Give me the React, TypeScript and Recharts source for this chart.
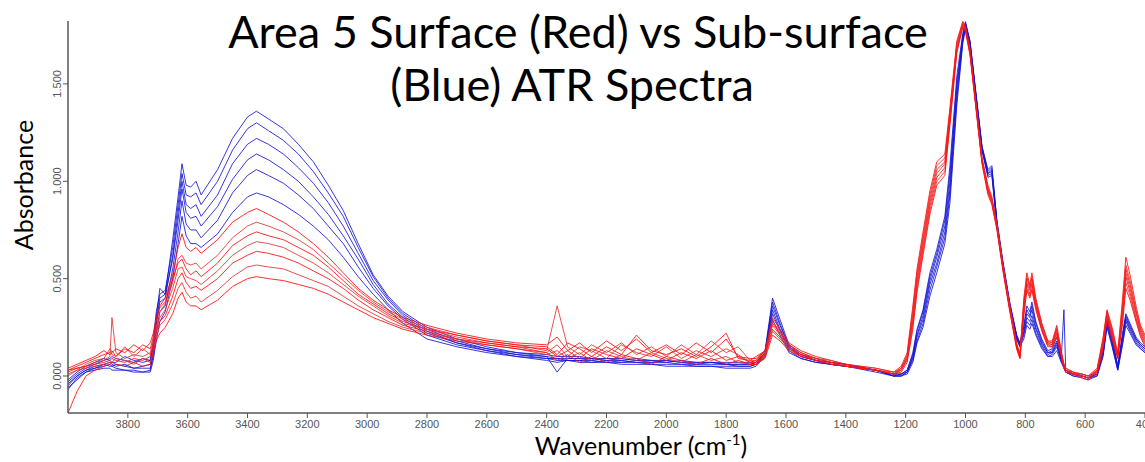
import React from "react";
import { LineChart, Line, XAxis, YAxis } from "recharts";

// wavenumber grid (cm-1), high to low as plotted
const wavenumber = [
  4000, 3970, 3940, 3910, 3880, 3860, 3853, 3840, 3810, 3780, 3750, 3725,
  3715, 3705, 3693, 3675, 3650, 3632, 3619, 3605, 3590, 3572, 3555, 3500, 3450, 3400, 3370, 3330, 3280, 3230, 3180, 3130, 3080, 3030, 2980, 2930, 2880, 2800, 2700, 2600, 2500,
  2400, 2365, 2330, 2290, 2250, 2200, 2150, 2100, 2050, 2000, 1950, 1900, 1850, 1800, 1760, 1720,
  1700, 1670, 1645, 1620, 1590, 1550, 1500, 1450, 1400, 1300, 1240, 1215, 1195, 1176, 1162, 1142, 1119, 1096, 1069, 1052,
  1029, 1009, 1000, 985, 962, 945, 925, 912, 895, 875, 852, 829, 818, 805, 795, 785, 778, 765, 745, 725,
  710, 695, 680, 671, 665, 640, 610, 590, 560, 540, 527, 510, 491, 475, 464, 450, 430, 415, 400,
];

// sub-surface spectra (blue)
const blue1 = [
  -0.05, 0.0, 0.03, 0.05, 0.06, 0.07, 0.06, 0.05, 0.06, 0.04, 0.05, 0.06,
  0.15, 0.3, 0.45, 0.42, 0.7, 0.92, 1.09, 0.98, 0.97, 1.0, 0.93, 1.06, 1.22, 1.33, 1.36, 1.32, 1.27, 1.19, 1.1, 0.98, 0.85, 0.68, 0.52, 0.41, 0.33, 0.25, 0.19, 0.15, 0.12,
  0.11, 0.1, 0.1, 0.1, 0.09, 0.09, 0.09, 0.08, 0.08, 0.08, 0.07, 0.07, 0.07, 0.07, 0.07, 0.07,
  0.08, 0.13, 0.4, 0.29, 0.16, 0.11, 0.09, 0.07, 0.06, 0.03, 0.0, 0.01, 0.03, 0.12, 0.24, 0.34, 0.53, 0.65, 0.82, 1.08,
  1.54, 1.76, 1.82, 1.72, 1.41, 1.18, 1.06, 1.08, 0.8, 0.59, 0.38, 0.21, 0.17, 0.26, 0.36, 0.33, 0.38, 0.28, 0.19, 0.13,
  0.14, 0.2, 0.1, 0.06, 0.03, 0.01, 0.0, -0.01, 0.02, 0.15, 0.3, 0.2, 0.05, 0.22, 0.32, 0.27, 0.2, 0.17, 0.15,
];
const blue2 = [
  -0.03, 0.01, 0.04, 0.06, 0.08, 0.09, 0.1, 0.09, 0.08, 0.07, 0.09, 0.08,
  0.18, 0.33, 0.42, 0.44, 0.66, 0.88, 1.04, 0.93, 0.92, 0.94, 0.88, 1.0, 1.16, 1.27, 1.3, 1.26, 1.21, 1.14, 1.05, 0.94, 0.82, 0.66, 0.51, 0.4, 0.32, 0.24, 0.18, 0.14, 0.12,
  0.1, 0.09, 0.09, 0.09, 0.09, 0.08, 0.08, 0.09, 0.08, 0.07, 0.08, 0.07, 0.07, 0.06, 0.06, 0.06,
  0.07, 0.12, 0.38, 0.27, 0.15, 0.11, 0.08, 0.07, 0.06, 0.03, 0.01, 0.01, 0.03, 0.11, 0.23, 0.33, 0.51, 0.63, 0.8, 1.04,
  1.51, 1.75, 1.81, 1.72, 1.41, 1.18, 1.05, 1.07, 0.79, 0.58, 0.37, 0.21, 0.17, 0.25, 0.34, 0.31, 0.36, 0.27, 0.18, 0.12,
  0.13, 0.18, 0.09, 0.05, 0.03, 0.01, 0.01, 0.0, 0.02, 0.14, 0.29, 0.19, 0.05, 0.21, 0.31, 0.26, 0.19, 0.16, 0.14,
];
const blue3 = [
  -0.06, -0.02, 0.02, 0.04, 0.05, 0.06, 0.05, 0.04, 0.03, 0.03, 0.02, 0.03,
  0.12, 0.26, 0.38, 0.4, 0.62, 0.84, 1.0, 0.88, 0.86, 0.88, 0.82, 0.93, 1.09, 1.19, 1.22, 1.19, 1.14, 1.07, 0.99, 0.89, 0.77, 0.63, 0.49, 0.39, 0.31, 0.23, 0.17, 0.14, 0.11,
  0.1, 0.02, 0.09, 0.09, 0.08, 0.09, 0.08, 0.07, 0.07, 0.08, 0.07, 0.06, 0.06, 0.06, 0.06, 0.06,
  0.07, 0.12, 0.36, 0.26, 0.15, 0.1, 0.08, 0.06, 0.05, 0.03, 0.0, 0.0, 0.02, 0.1, 0.21, 0.31, 0.49, 0.61, 0.77, 1.0,
  1.48, 1.74, 1.81, 1.71, 1.4, 1.17, 1.04, 1.06, 0.79, 0.58, 0.37, 0.2, 0.16, 0.23, 0.32, 0.3, 0.34, 0.25, 0.17, 0.12,
  0.12, 0.17, 0.09, 0.34, 0.03, 0.01, 0.0, -0.01, 0.01, 0.13, 0.28, 0.18, 0.04, 0.2, 0.3, 0.25, 0.19, 0.16, 0.14,
];
const blue4 = [
  -0.02, 0.02, 0.05, 0.07, 0.09, 0.08, 0.07, 0.07, 0.1, 0.08, 0.07, 0.08,
  0.16, 0.28, 0.4, 0.42, 0.6, 0.8, 0.96, 0.84, 0.81, 0.82, 0.77, 0.87, 1.01, 1.11, 1.14, 1.11, 1.06, 1.0, 0.92, 0.83, 0.72, 0.6, 0.47, 0.37, 0.3, 0.22, 0.17, 0.13, 0.11,
  0.09, 0.08, 0.08, 0.08, 0.08, 0.07, 0.07, 0.08, 0.07, 0.07, 0.06, 0.06, 0.07, 0.06, 0.05, 0.05,
  0.06, 0.11, 0.34, 0.24, 0.14, 0.1, 0.08, 0.06, 0.05, 0.03, 0.01, 0.01, 0.02, 0.09, 0.2, 0.29, 0.47, 0.58, 0.74, 0.96,
  1.45, 1.73, 1.8, 1.71, 1.4, 1.17, 1.04, 1.05, 0.78, 0.57, 0.36, 0.2, 0.16, 0.22, 0.3, 0.28, 0.31, 0.24, 0.16, 0.11,
  0.12, 0.16, 0.08, 0.05, 0.02, 0.01, 0.0, -0.01, 0.01, 0.12, 0.27, 0.17, 0.04, 0.19, 0.29, 0.24, 0.18, 0.15, 0.13,
];
const blue5 = [
  -0.04, 0.0, 0.03, 0.04, 0.06, 0.05, 0.05, 0.06, 0.05, 0.04, 0.04, 0.04,
  0.1, 0.22, 0.33, 0.36, 0.55, 0.74, 0.9, 0.78, 0.75, 0.75, 0.71, 0.8, 0.94, 1.03, 1.06, 1.03, 0.99, 0.93, 0.86, 0.77, 0.68, 0.56, 0.45, 0.36, 0.29, 0.21, 0.16, 0.13, 0.1,
  0.09, 0.09, 0.08, 0.08, 0.07, 0.08, 0.07, 0.07, 0.06, 0.06, 0.06, 0.05, 0.05, 0.05, 0.05, 0.05,
  0.06, 0.1, 0.32, 0.23, 0.13, 0.09, 0.07, 0.06, 0.05, 0.03, 0.0, 0.0, 0.02, 0.08, 0.18, 0.27, 0.44, 0.56, 0.71, 0.93,
  1.42, 1.72, 1.79, 1.7, 1.39, 1.16, 1.03, 1.04, 0.77, 0.56, 0.36, 0.19, 0.15, 0.21, 0.28, 0.26, 0.29, 0.22, 0.15, 0.1,
  0.11, 0.15, 0.08, 0.04, 0.02, 0.0, -0.01, -0.02, 0.0, 0.11, 0.26, 0.16, 0.03, 0.17, 0.28, 0.23, 0.17, 0.14, 0.12,
];
const blue6 = [
  -0.07, -0.01, 0.02, 0.03, 0.04, 0.04, 0.03, 0.03, 0.03, 0.02, 0.02, 0.02,
  0.08, 0.18, 0.28, 0.33, 0.5, 0.68, 0.82, 0.72, 0.68, 0.68, 0.66, 0.73, 0.84, 0.92, 0.94, 0.92, 0.88, 0.83, 0.77, 0.7, 0.61, 0.51, 0.42, 0.34, 0.27, 0.19, 0.15, 0.12, 0.1,
  0.08, 0.07, 0.08, 0.07, 0.07, 0.07, 0.06, 0.06, 0.06, 0.05, 0.05, 0.05, 0.05, 0.04, 0.04, 0.04,
  0.05, 0.1, 0.29, 0.21, 0.12, 0.09, 0.07, 0.06, 0.05, 0.02, 0.0, 0.0, 0.01, 0.07, 0.17, 0.25, 0.41, 0.53, 0.68, 0.89,
  1.39, 1.71, 1.78, 1.7, 1.39, 1.16, 1.02, 1.03, 0.77, 0.56, 0.35, 0.19, 0.15, 0.19, 0.26, 0.24, 0.27, 0.21, 0.14, 0.1,
  0.1, 0.13, 0.07, 0.04, 0.02, 0.0, 0.0, -0.01, 0.0, 0.1, 0.25, 0.15, 0.03, 0.16, 0.26, 0.22, 0.16, 0.14, 0.12,
];

// surface spectra (red)
const red1 = [
  0.03, 0.05, 0.07, 0.09, 0.11, 0.12, 0.13, 0.1, 0.14, 0.12, 0.16, 0.14,
  0.2, 0.28, 0.36, 0.4, 0.52, 0.66, 0.73, 0.66, 0.64, 0.66, 0.63, 0.7, 0.79, 0.84, 0.86, 0.83, 0.79, 0.74, 0.68, 0.61, 0.53, 0.45, 0.39, 0.34, 0.3, 0.26, 0.22, 0.19, 0.17,
  0.16, 0.2, 0.13, 0.17, 0.12, 0.18, 0.13, 0.19, 0.12, 0.16, 0.11, 0.17, 0.12, 0.19, 0.1, 0.09,
  0.09, 0.13, 0.3, 0.24, 0.17, 0.13, 0.1, 0.08, 0.06, 0.04, 0.02, 0.05, 0.12, 0.36, 0.55, 0.74, 0.95, 1.1, 1.14, 1.38,
  1.72, 1.82, 1.8, 1.68, 1.36, 1.12, 0.98, 0.92, 0.78, 0.57, 0.36, 0.17, 0.11, 0.4, 0.53, 0.47, 0.53, 0.4, 0.27, 0.18,
  0.18, 0.26, 0.13, 0.06, 0.04, 0.02, 0.01, 0.0, 0.04, 0.2, 0.34, 0.25, 0.12, 0.4, 0.61, 0.52, 0.36, 0.26, 0.21,
];
const red2 = [
  0.02, 0.04, 0.05, 0.07, 0.08, 0.1, 0.3, 0.12, 0.09, 0.11, 0.1, 0.12,
  0.18, 0.25, 0.33, 0.37, 0.48, 0.6, 0.62, 0.58, 0.57, 0.58, 0.55, 0.62, 0.71, 0.77, 0.79, 0.77, 0.74, 0.7, 0.65, 0.58, 0.51, 0.44, 0.38, 0.33, 0.29, 0.25, 0.21, 0.18, 0.16,
  0.13, 0.36, 0.15, 0.11, 0.16, 0.12, 0.17, 0.11, 0.15, 0.1, 0.16, 0.11, 0.18, 0.12, 0.15, 0.08,
  0.08, 0.12, 0.28, 0.23, 0.16, 0.12, 0.09, 0.08, 0.06, 0.04, 0.02, 0.04, 0.11, 0.34, 0.53, 0.72, 0.93, 1.08, 1.12, 1.36,
  1.71, 1.82, 1.79, 1.67, 1.36, 1.12, 0.97, 0.91, 0.78, 0.57, 0.36, 0.16, 0.11, 0.38, 0.51, 0.46, 0.51, 0.39, 0.27, 0.18,
  0.17, 0.25, 0.12, 0.06, 0.04, 0.02, 0.01, 0.0, 0.03, 0.19, 0.33, 0.24, 0.11, 0.37, 0.57, 0.49, 0.34, 0.25, 0.2,
];
const red3 = [
  0.04, 0.06, 0.08, 0.1, 0.13, 0.11, 0.12, 0.14, 0.12, 0.16, 0.13, 0.17,
  0.22, 0.3, 0.35, 0.38, 0.5, 0.58, 0.6, 0.55, 0.52, 0.54, 0.51, 0.58, 0.67, 0.72, 0.74, 0.72, 0.7, 0.66, 0.62, 0.56, 0.49, 0.42, 0.37, 0.32, 0.28, 0.24, 0.21, 0.18, 0.16,
  0.15, 0.11, 0.17, 0.14, 0.1, 0.15, 0.11, 0.21, 0.13, 0.11, 0.14, 0.1, 0.15, 0.22, 0.09, 0.08,
  0.1, 0.13, 0.27, 0.22, 0.16, 0.12, 0.09, 0.07, 0.06, 0.03, 0.01, 0.04, 0.1, 0.32, 0.51, 0.7, 0.91, 1.06, 1.1, 1.35,
  1.7, 1.81, 1.79, 1.67, 1.35, 1.11, 0.96, 0.91, 0.77, 0.56, 0.35, 0.16, 0.1, 0.37, 0.5, 0.45, 0.5, 0.38, 0.26, 0.17,
  0.17, 0.24, 0.12, 0.05, 0.03, 0.02, 0.0, -0.01, 0.03, 0.18, 0.33, 0.23, 0.11, 0.35, 0.55, 0.47, 0.33, 0.24, 0.19,
];
const red4 = [
  0.01, 0.03, 0.06, 0.08, 0.09, 0.14, 0.11, 0.1, 0.15, 0.1, 0.14, 0.11,
  0.16, 0.24, 0.3, 0.34, 0.45, 0.55, 0.56, 0.51, 0.5, 0.49, 0.47, 0.54, 0.62, 0.67, 0.69, 0.68, 0.66, 0.62, 0.58, 0.53, 0.47, 0.41, 0.36, 0.31, 0.27, 0.24, 0.2, 0.17, 0.15,
  0.12, 0.16, 0.1, 0.15, 0.13, 0.09, 0.16, 0.12, 0.1, 0.15, 0.09, 0.13, 0.1, 0.14, 0.11, 0.07,
  0.07, 0.11, 0.26, 0.21, 0.15, 0.11, 0.09, 0.07, 0.05, 0.03, 0.02, 0.03, 0.09, 0.3, 0.49, 0.68, 0.89, 1.04, 1.09, 1.33,
  1.69, 1.81, 1.78, 1.66, 1.35, 1.11, 0.96, 0.9, 0.77, 0.56, 0.35, 0.15, 0.1, 0.35, 0.48, 0.44, 0.48, 0.37, 0.25, 0.17,
  0.16, 0.23, 0.11, 0.05, 0.03, 0.01, 0.0, -0.01, 0.02, 0.17, 0.32, 0.22, 0.1, 0.33, 0.53, 0.45, 0.32, 0.23, 0.18,
];
const red5 = [
  0.03, 0.04, 0.05, 0.06, 0.07, 0.08, 0.09, 0.08, 0.07, 0.09, 0.08, 0.1,
  0.15, 0.22, 0.28, 0.31, 0.41, 0.5, 0.53, 0.48, 0.45, 0.46, 0.44, 0.5, 0.58, 0.62, 0.64, 0.63, 0.61, 0.58, 0.54, 0.5, 0.45, 0.39, 0.34, 0.3, 0.26, 0.23, 0.19, 0.17, 0.15,
  0.14, 0.1, 0.13, 0.09, 0.14, 0.11, 0.09, 0.14, 0.11, 0.08, 0.12, 0.09, 0.13, 0.08, 0.1, 0.07,
  0.07, 0.11, 0.24, 0.2, 0.14, 0.11, 0.08, 0.07, 0.05, 0.03, 0.01, 0.03, 0.09, 0.28, 0.47, 0.66, 0.87, 1.02, 1.07, 1.32,
  1.68, 1.8, 1.78, 1.66, 1.34, 1.1, 0.95, 0.89, 0.76, 0.55, 0.34, 0.15, 0.1, 0.34, 0.47, 0.42, 0.47, 0.36, 0.24, 0.16,
  0.16, 0.22, 0.11, 0.05, 0.03, 0.01, 0.0, -0.01, 0.02, 0.16, 0.31, 0.21, 0.1, 0.31, 0.51, 0.43, 0.3, 0.22, 0.17,
];
const red6 = [
  0.0, 0.03, 0.04, 0.05, 0.06, 0.07, 0.07, 0.09, 0.08, 0.06, 0.09, 0.07,
  0.13, 0.2, 0.26, 0.29, 0.37, 0.45, 0.48, 0.43, 0.4, 0.41, 0.38, 0.44, 0.51, 0.56, 0.57, 0.56, 0.55, 0.52, 0.49, 0.46, 0.41, 0.36, 0.32, 0.28, 0.25, 0.22, 0.19, 0.16, 0.14,
  0.11, 0.13, 0.09, 0.12, 0.08, 0.13, 0.1, 0.08, 0.12, 0.09, 0.07, 0.11, 0.08, 0.1, 0.07, 0.06,
  0.06, 0.1, 0.23, 0.19, 0.14, 0.1, 0.08, 0.06, 0.05, 0.03, 0.01, 0.03, 0.08, 0.26, 0.45, 0.64, 0.85, 1.0, 1.05, 1.3,
  1.67, 1.8, 1.77, 1.65, 1.34, 1.1, 0.94, 0.89, 0.76, 0.55, 0.34, 0.14, 0.09, 0.32, 0.45, 0.41, 0.45, 0.35, 0.24, 0.16,
  0.15, 0.21, 0.1, 0.04, 0.03, 0.01, 0.0, -0.01, 0.02, 0.15, 0.3, 0.2, 0.09, 0.29, 0.48, 0.41, 0.29, 0.21, 0.16,
];
const red7 = [
  -0.19, -0.08, 0.0, 0.03, 0.05, 0.06, 0.07, 0.06, 0.05, 0.07, 0.05, 0.06,
  0.12, 0.18, 0.22, 0.25, 0.32, 0.4, 0.43, 0.38, 0.36, 0.36, 0.34, 0.39, 0.46, 0.5, 0.51, 0.5, 0.49, 0.47, 0.45, 0.42, 0.38, 0.34, 0.3, 0.27, 0.24, 0.21, 0.18, 0.16, 0.14,
  0.12, 0.08, 0.11, 0.07, 0.1, 0.07, 0.11, 0.09, 0.06, 0.1, 0.08, 0.06, 0.09, 0.06, 0.08, 0.06,
  0.06, 0.09, 0.21, 0.18, 0.13, 0.1, 0.08, 0.06, 0.05, 0.03, 0.01, 0.02, 0.07, 0.24, 0.43, 0.62, 0.83, 0.98, 1.03, 1.29,
  1.66, 1.79, 1.77, 1.65, 1.33, 1.09, 0.93, 0.88, 0.75, 0.54, 0.33, 0.14, 0.09, 0.31, 0.44, 0.4, 0.44, 0.34, 0.23, 0.15,
  0.15, 0.2, 0.1, 0.04, 0.02, 0.01, -0.01, -0.02, 0.01, 0.14, 0.29, 0.19, 0.09, 0.27, 0.45, 0.39, 0.28, 0.2, 0.15,
];

const xTicks = [3800, 3600, 3400, 3200, 3000, 2800, 2600, 2400, 2200, 2000, 1800, 1600, 1400, 1200, 1000, 800, 600, 400];
const yTicks = [0, 0.5, 1, 1.5];

const blueSeries = [blue1, blue2, blue3, blue4, blue5, blue6];
const redSeries = [red1, red2, red3, red4, red5, red6, red7];

const data = wavenumber.map((w, i) => {
  const row: Record<string, number> = { w };
  blueSeries.forEach((s, k) => (row[`b${k}`] = s[i]));
  redSeries.forEach((s, k) => (row[`r${k}`] = s[i]));
  return row;
});

const tickFont = "'Liberation Sans', Arial, sans-serif";
const labelFont = "Lato, 'Open Sans', sans-serif";

function YTick({ x, y, payload }: any) {
  return (
    <text
      x={x}
      y={y}
      transform={`rotate(-90 ${x} ${y})`}
      textAnchor="middle"
      fontSize={11}
      fontFamily={tickFont}
      fill="#555"
    >
      {Number(payload.value).toFixed(3)}
    </text>
  );
}

export default function App() {
  return (
    <div style={{ position: "absolute", left: 0, top: 0, width: 1145, height: 462, background: "#fff" }}>
      <LineChart width={1145} height={462} data={data} margin={{ top: 21, right: 0, bottom: 0, left: 38 }}>
        <XAxis
          dataKey="w"
          type="number"
          domain={[400, 4000]}
          reversed
          allowDataOverflow
          ticks={xTicks}
          interval={0}
          height={49}
          tickSize={5}
          tick={{ fontSize: 11, fill: "#555", fontFamily: tickFont }}
          tickLine={{ stroke: "#555" }}
          axisLine={{ stroke: "#555", strokeWidth: 1.5 }}
        />
        <YAxis
          type="number"
          domain={[-0.19, 1.823]}
          allowDataOverflow
          ticks={yTicks}
          width={30}
          tickSize={5}
          tick={<YTick />}
          tickLine={{ stroke: "#555" }}
          axisLine={{ stroke: "#555", strokeWidth: 1.5 }}
        />
        {blueSeries.map((_, k) => (
          <Line
            key={`b${k}`}
            dataKey={`b${k}`}
            type="linear"
            stroke="#1414d6"
            strokeOpacity={0.85}
            strokeWidth={1}
            dot={false}
            isAnimationActive={false}
          />
        ))}
        {redSeries.map((_, k) => (
          <Line
            key={`r${k}`}
            dataKey={`r${k}`}
            type="linear"
            stroke={k % 2 ? "#e83030" : "#ff0a0a"}
            strokeOpacity={0.85}
            strokeWidth={1}
            dot={false}
            isAnimationActive={false}
          />
        ))}
      </LineChart>
      <svg width={1145} height={462} style={{ position: "absolute", left: 0, top: 0, pointerEvents: "none" }}>
        <text x={578} y={48} textAnchor="middle" fontSize={45} fontFamily={labelFont} fill="#000">
          Area 5 Surface (Red) vs Sub-surface
        </text>
        <text x={572} y={101} textAnchor="middle" fontSize={45} fontFamily={labelFont} fill="#000">
          (Blue) ATR Spectra
        </text>
        <text
          x={33}
          y={185}
          transform="rotate(-90 33 185)"
          textAnchor="middle"
          fontSize={25}
          fontFamily={labelFont}
          fill="#000"
        >
          Absorbance
        </text>
        <text x={641} y={455} textAnchor="middle" fontSize={25} fontFamily={labelFont} fill="#000">
          Wavenumber (cm
          <tspan fontSize={15} dy={-10}>-1</tspan>
          <tspan dy={10}>)</tspan>
        </text>
      </svg>
    </div>
  );
}
